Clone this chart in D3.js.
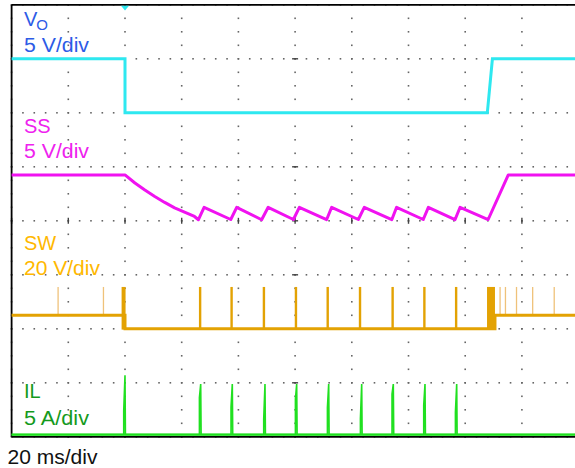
<!DOCTYPE html>
<html>
<head>
<meta charset="utf-8">
<script src="https://cdn.jsdelivr.net/npm/d3@7"></script>
<style>
  html, body { margin: 0; padding: 0; background: #fff; }
  svg { display: block; }
  text { font-family: "Liberation Sans", Arial, Helvetica, sans-serif; }
</style>
</head>
<body>
<svg id="scope" width="575" height="468"></svg>
<script>
// ---- Time base: 20 ms/div, trigger at t = 0 ms ----
const timeDomain = [-40, 160];
const timePerDiv = 20;

// ---- VO, 5 V/div ----
const voTime  = [-40, 0, 0, 127.8, 129.6, 160];
const voVolts = [5, 5, 0, 0, 5, 5];

// ---- SS, 5 V/div (soft-start discharge, hiccup sawtooth, recovery ramp) ----
const ssTime  = [-40, 0, 3.5, 7, 10.5, 14, 17.5, 21, 24.5, 25.9,
                 27.9, 37.3, 39.4, 48.2, 50.5, 59.4, 61.5, 71.1, 72.9, 82.3,
                 84.4, 94.1, 95.8, 105.2, 107.0, 116.4, 118.2, 128.1, 135.2, 160];
const ssVolts = [4.25, 4.25, 3.5, 2.85, 2.25, 1.7, 1.2, 0.8, 0.4, 0.1,
                 1.25, 0.12, 1.25, 0.1, 1.25, 0.12, 1.25, 0.1, 1.25, 0.12,
                 1.25, 0.1, 1.25, 0.12, 1.25, 0.1, 1.25, 0.12, 4.25, 4.25];

// ---- SW, 20 V/div ----
const swLevelTime  = [-40, 0, 0, 130.5, 130.5, 160];
const swLevelVolts = [5, 5, 0, 0, 5, 5];
const swPulseTimes = [26.5, 37.6, 49.0, 60.3, 71.5, 82.9, 94.4, 105.6, 116.8];
const swRingTimes  = [-23.6, -7.6, 132.3, 134.2, 138.1, 143.8, 151.4];
const swBurstStart = [-1.2, 127.7];
const swBurstEnd   = [0.2, 130.5];
const swPeakVolts  = 15.5;

// ---- IL, 5 A/div ----
const ilPulseTimes = [0, 26.7, 37.85, 49.38, 60.56, 71.85, 83.49, 94.64, 105.82, 117.0];
const ilStepAmps   = [2.2, 3.44, 2.55, 1.44, 3.29, 2.52, 1.5, 3.75, 2.73, 2.06];
const ilPeakAmps   = [5.5, 4.68, 4.68, 4.68, 4.68, 4.68, 4.68, 4.68, 4.68, 4.68];

// ---- Channel labels ----
const chLabels   = ["V", "SS", "SW", "IL"];
const chScales   = ["5 V/div", "5 V/div", "20 V/div", "5 A/div"];
const timeLabel  = "20 ms/div";

// ---- Screen geometry ----
const svg = d3.select("#scope");
const plot = { left: 11.6, right: 578.6, top: 4.8, bottom: 436.8 };

const x = d3.scaleLinear().domain(timeDomain).range([plot.left, plot.right]);
const yDiv = d3.scaleLinear().domain([-4, 4]).range([plot.bottom, plot.top]);

// Each channel: units per division and the division where its zero sits
function channelScale(perDiv, zeroDiv) {
  return d3.scaleLinear().domain([0, perDiv]).range([yDiv(zeroDiv), yDiv(zeroDiv + 1)]);
}
const yVo = channelScale(5, 2);
const ySs = channelScale(5, 0);
const ySw = channelScale(20, -2);
const yIl = channelScale(5, -3.96);

const colors = {
  vo: "#2ee8f0", ss: "#f012f0", sw: "#e3a203", swRing: "#efc27a", il: "#20e020",
  voText: "#2d5be6", ssText: "#ee22ee", swText: "#ffb800", ilText: "#149a1c",
  grid: "#666"
};

// ---- Graticule ----
const grid = svg.append("g");
const majorTimes = d3.range(timeDomain[0], timeDomain[1] + 0.01, timePerDiv);
const majorDivs = d3.range(-4, 4.01, 1);
const dots = [];
majorTimes.forEach(t => d3.range(-4, 4.01, 0.25).forEach(d => dots.push([x(t), yDiv(d)])));
majorDivs.forEach(d => d3.range(timeDomain[0], timeDomain[1] + 0.01, timePerDiv / 5)
  .forEach(t => dots.push([x(t), yDiv(d)])));
grid.selectAll("rect.dot").data(dots).join("rect")
  .attr("class", "dot")
  .attr("x", d => d[0] - 0.8).attr("y", d => d[1] - 0.8)
  .attr("width", 1.6).attr("height", 1.6)
  .attr("fill", colors.grid);

// Centre-axis marks
const tCenter = (timeDomain[0] + timeDomain[1]) / 2;
grid.selectAll("line.vt").data(majorTimes).join("line")
  .attr("x1", d => x(d)).attr("x2", d => x(d))
  .attr("y1", yDiv(0) - 3).attr("y2", yDiv(0) + 3)
  .attr("stroke", "#444").attr("stroke-width", 1.4);
grid.selectAll("line.ht").data(majorDivs.slice(1, -1)).join("line")
  .attr("x1", x(tCenter) - 3).attr("x2", x(tCenter) + 3)
  .attr("y1", d => yDiv(d)).attr("y2", d => yDiv(d))
  .attr("stroke", "#444").attr("stroke-width", 1.4);

// Frame: left, top and bottom edges
const frame = svg.append("g").attr("stroke", "#000").attr("stroke-width", 1.8);
frame.append("line").attr("x1", plot.left).attr("x2", plot.left).attr("y1", plot.top).attr("y2", plot.bottom);
frame.append("line").attr("x1", plot.left).attr("x2", 575).attr("y1", plot.top).attr("y2", plot.top);
frame.append("line").attr("x1", plot.left).attr("x2", 575).attr("y1", plot.bottom).attr("y2", plot.bottom);

const traces = svg.append("g");

// ---- IL ----
const ilPoints = [[timeDomain[0], 0]];
ilPulseTimes.forEach((t, i) => {
  ilPoints.push([t - 0.45, 0], [t - 0.45, ilStepAmps[i]], [t, ilPeakAmps[i]], [t + 0.15, 0]);
});
ilPoints.push([timeDomain[1], 0]);
traces.append("path")
  .attr("d", d3.line().x(d => x(d[0])).y(d => yIl(d[1]))(ilPoints))
  .attr("fill", "none").attr("stroke", colors.il).attr("stroke-width", 1.6)
  .attr("stroke-linejoin", "miter");
traces.append("line")
  .attr("x1", x(timeDomain[0])).attr("x2", x(timeDomain[1]))
  .attr("y1", yIl(0)).attr("y2", yIl(0))
  .attr("stroke", colors.il).attr("stroke-width", 2.2);

// ---- SW ----
traces.selectAll("line.ring").data(swRingTimes).join("line")
  .attr("class", "ring")
  .attr("x1", d => x(d)).attr("x2", d => x(d))
  .attr("y1", ySw(5)).attr("y2", ySw(swPeakVolts))
  .attr("stroke", colors.swRing).attr("stroke-width", 1.3);
traces.append("path")
  .attr("d", d3.line().x((d, i) => x(d)).y((d, i) => ySw(swLevelVolts[i]))(swLevelTime))
  .attr("fill", "none").attr("stroke", colors.sw).attr("stroke-width", 3);
traces.selectAll("line.pulse").data(swPulseTimes).join("line")
  .attr("class", "pulse")
  .attr("x1", d => x(d)).attr("x2", d => x(d))
  .attr("y1", ySw(-0.3)).attr("y2", ySw(swPeakVolts))
  .attr("stroke", colors.sw).attr("stroke-width", 2.4);
traces.selectAll("rect.burst").data(swBurstStart).join("rect")
  .attr("class", "burst")
  .attr("x", d => x(d)).attr("width", (d, i) => x(swBurstEnd[i]) - x(d))
  .attr("y", ySw(swPeakVolts)).attr("height", ySw(-0.3) - ySw(swPeakVolts))
  .attr("fill", colors.sw);

// ---- SS ----
traces.append("path")
  .attr("d", d3.line().x(d => x(d)).y((d, i) => ySs(ssVolts[i]))(ssTime))
  .attr("fill", "none").attr("stroke", colors.ss).attr("stroke-width", 3)
  .attr("stroke-linejoin", "round");

// ---- VO ----
traces.append("path")
  .attr("d", d3.line().x(d => x(d)).y((d, i) => yVo(voVolts[i]))(voTime))
  .attr("fill", "none").attr("stroke", colors.vo).attr("stroke-width", 3);

// Trigger position marker
const xt = x(0);
svg.append("path")
  .attr("d", `M${xt - 4},${plot.top + 0.9}L${xt + 4},${plot.top + 0.9}L${xt},${plot.top + 5.6}Z`)
  .attr("fill", colors.vo);

// ---- Labels ----
const labels = svg.append("g").attr("font-size", 20);
const voLab = labels.append("text").attr("x", 24).attr("y", 26).attr("fill", colors.voText).text(chLabels[0]);
voLab.append("tspan").attr("font-size", 15).attr("dx", -1).attr("dy", 3.5).text("O");
labels.append("text").attr("x", 24).attr("y", 51.5).attr("fill", colors.voText)
  .attr("textLength", 65).attr("lengthAdjust", "spacingAndGlyphs").text(chScales[0]);

labels.append("text").attr("x", 24).attr("y", 133.3).attr("fill", colors.ssText).text(chLabels[1]);
labels.append("text").attr("x", 24).attr("y", 158).attr("fill", colors.ssText)
  .attr("textLength", 65).attr("lengthAdjust", "spacingAndGlyphs").text(chScales[1]);

labels.append("text").attr("x", 24).attr("y", 250).attr("fill", colors.swText).text(chLabels[2]);
labels.append("text").attr("x", 24).attr("y", 275).attr("fill", colors.swText)
  .attr("textLength", 76).attr("lengthAdjust", "spacingAndGlyphs").text(chScales[2]);

labels.append("text").attr("x", 24).attr("y", 398.3).attr("fill", colors.ilText).text(chLabels[3]);
labels.append("text").attr("x", 24).attr("y", 425).attr("fill", colors.ilText)
  .attr("textLength", 65).attr("lengthAdjust", "spacingAndGlyphs").text(chScales[3]);

labels.append("text").attr("x", 7.5).attr("y", 463.5).attr("fill", "#111")
  .attr("textLength", 90).attr("lengthAdjust", "spacingAndGlyphs").text(timeLabel);
</script>
</body>
</html>
